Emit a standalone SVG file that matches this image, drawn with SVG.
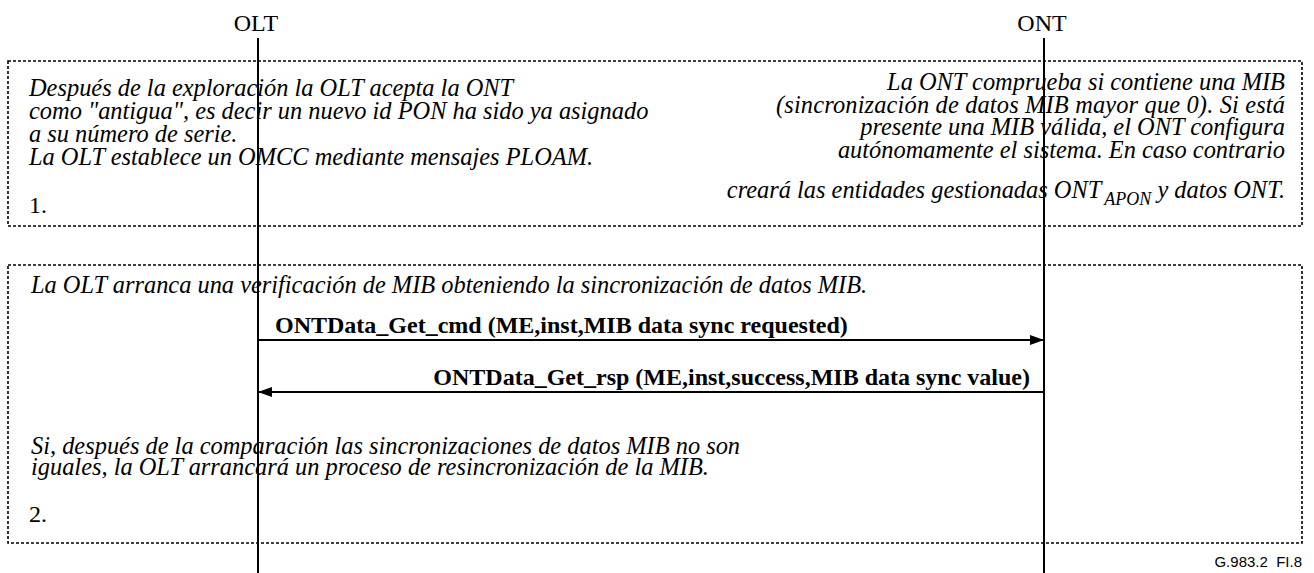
<svg xmlns="http://www.w3.org/2000/svg" width="1314" height="573" viewBox="0 0 1314 573">
<style>
.lbl{font-family:"Liberation Serif","Times New Roman",serif;font-size:24px;fill:#000}
.it{font-family:"Liberation Serif","Times New Roman",serif;font-size:24.4px;font-style:italic;fill:#000}
.num{font-family:"Liberation Serif","Times New Roman",serif;font-size:24px;fill:#000}
.msg{font-family:"Liberation Serif","Times New Roman",serif;font-size:24px;font-weight:bold;fill:#000}
.box{fill:none;stroke:#000;stroke-width:1.6;stroke-dasharray:3 2}
.life{stroke:#000;stroke-width:2}
.arr{stroke:#000;stroke-width:2;fill:none}
.ref{font-family:"Liberation Sans",Arial,sans-serif;font-size:15px;fill:#000;white-space:pre}
</style>
<defs>
<marker id="ah" markerUnits="userSpaceOnUse" markerWidth="14" markerHeight="10" refX="14" refY="5" orient="auto">
<path d="M0,0 L14,5 L0,10 z" fill="#000"/>
</marker>
</defs>
<g id="box1">
<rect class="box" x="8" y="61" width="1294" height="165"/>
<text class="it" x="29" y="96">Después de la exploración la OLT acepta la ONT</text>
<text class="it" x="29" y="119">como "antigua", es decir un nuevo id PON ha sido ya asignado</text>
<text class="it" x="29" y="142">a su número de serie.</text>
<text class="it" x="29" y="165">La OLT establece un OMCC mediante mensajes PLOAM.</text>
<text class="num" x="29" y="213">1.</text>
<text class="it" x="1285" y="90" text-anchor="end">La ONT comprueba si contiene una MIB</text>
<text class="it" x="776" y="112.5" textLength="509">(sincronización de datos MIB mayor que 0). Si está</text>
<text class="it" x="1285" y="135" text-anchor="end">presente una MIB válida, el ONT configura</text>
<text class="it" x="1285" y="157.5" text-anchor="end">autónomamente el sistema. En caso contrario</text>
<text class="it" x="1285" y="198" text-anchor="end">creará las entidades gestionadas ONT<tspan font-size="18" dx="3" dy="7">APON</tspan><tspan dy="-7"> y datos ONT.</tspan></text>
</g>
<g id="box2">
<rect class="box" x="8" y="265" width="1294" height="278"/>
<text class="it" x="31" y="293">La OLT arranca una verificación de MIB obteniendo la sincronización de datos MIB.</text>
<text class="it" x="31" y="454">Si, después de la comparación las sincronizaciones de datos MIB no son</text>
<text class="it" x="31" y="475">iguales, la OLT arrancará un proceso de resincronización de la MIB.</text>
<text class="num" x="29" y="522">2.</text>
</g>
<g id="OLT">
<text class="lbl" x="256" y="31" text-anchor="middle">OLT</text>
<line class="life" x1="258" y1="38" x2="258" y2="573"/>
</g>
<g id="ONT">
<text class="lbl" x="1042" y="31" text-anchor="middle">ONT</text>
<line class="life" x1="1044" y1="38" x2="1044" y2="573"/>
</g>
<g id="connectors">
<line class="arr" x1="258" y1="340" x2="1044" y2="340" marker-end="url(#ah)"/>
<text class="msg" x="275" y="333">ONTData_Get_cmd (ME,inst,MIB data sync requested)</text>
<line class="arr" x1="1044" y1="392" x2="258" y2="392" marker-end="url(#ah)"/>
<text class="msg" x="1030" y="385" text-anchor="end">ONTData_Get_rsp (ME,inst,success,MIB data sync value)</text>
</g>
<text class="ref" x="1302" y="567" text-anchor="end">G.983.2  FI.8</text>
</svg>
